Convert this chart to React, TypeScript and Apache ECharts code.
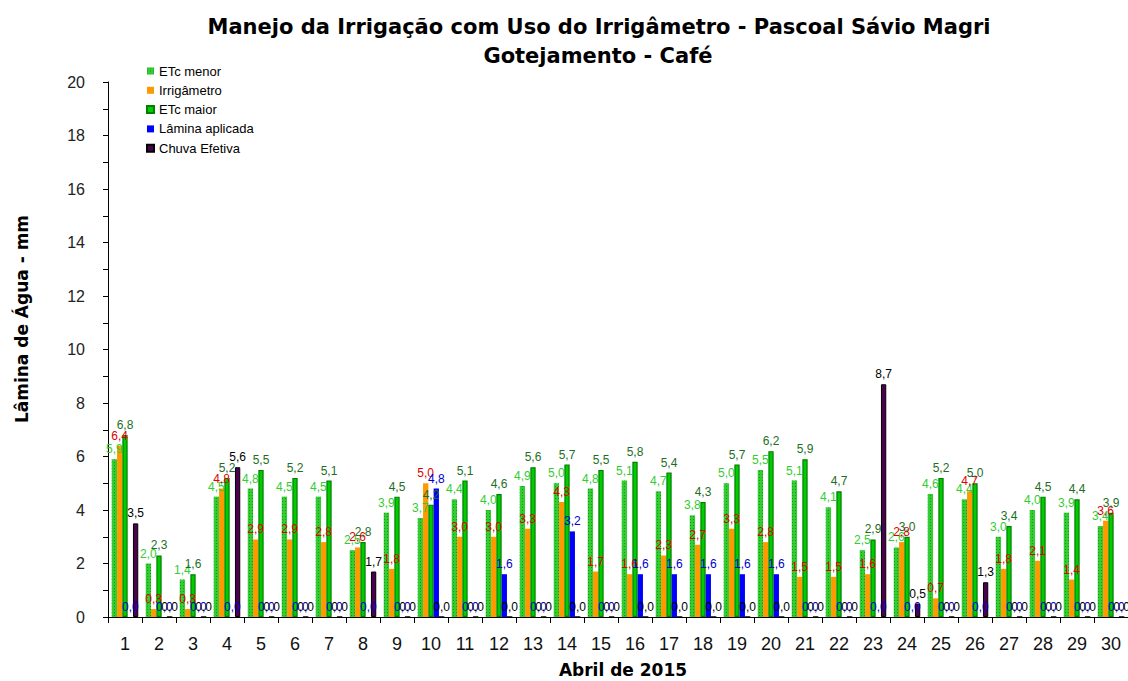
import React, { useEffect, useRef } from "react";
import * as echarts from "echarts";

const days = ["1","2","3","4","5","6","7","8","9","10","11","12","13","14","15","16","17","18","19","20","21","22","23","24","25","26","27","28","29","30"];
const etcMenor = [5.9,2.0,1.4,4.5,4.8,4.5,4.5,2.5,3.9,3.7,4.4,4.0,4.9,5.0,4.8,5.1,4.7,3.8,5.0,5.5,5.1,4.1,2.5,2.6,4.6,4.4,3.0,4.0,3.9,3.4];
const irrigametro = [6.4,0.3,0.3,4.8,2.9,2.9,2.8,2.6,1.8,5.0,3.0,3.0,3.3,4.3,1.7,1.6,2.3,2.7,3.3,2.8,1.5,1.5,1.6,2.8,0.7,4.7,1.8,2.1,1.4,3.6];
const etcMaior = [6.8,2.3,1.6,5.2,5.5,5.2,5.1,2.8,4.5,4.2,5.1,4.6,5.6,5.7,5.5,5.8,5.4,4.3,5.7,6.2,5.9,4.7,2.9,3.0,5.2,5.0,3.4,4.5,4.4,3.9];
const laminaAplicada = [0,0,0,0,0,0,0,0,0,4.8,0,1.6,0,3.2,0,1.6,1.6,1.6,1.6,1.6,0,0,0,0,0,0,0,0,0,0];
const chuvaEfetiva = [3.5,0,0,5.6,0,0,0,1.7,0,0,0,0,0,0,0,0,0,0,0,0,0,0,8.7,0.5,0,1.3,0,0,0,0];

const titleLine1 = "Manejo da Irrigação com Uso do Irrigâmetro - Pascoal Sávio Magri";
const titleLine2 = "Gotejamento - Café";
const xTitle = "Abril de 2015";
const yTitle = "Lâmina de Água - mm";

const fmt = (v: number) => v.toFixed(1).replace(".", ",");

export default function App() {
  const ref = useRef<HTMLDivElement>(null);
  useEffect(() => {
    document.body.style.margin = "0";
    const chart = echarts.init(ref.current!, null, { renderer: "svg" });
    const lbl = (color: string) => ({
      show: true,
      position: "top" as const,
      distance: 4,
      color,
      fontSize: 12,
      fontFamily: "Liberation Sans",
      formatter: (p: any) => fmt(p.value),
    });
    chart.setOption({
      animation: false,
      backgroundColor: "#ffffff",
      legend: {
        orient: "vertical",
        left: 141,
        top: 59,
        itemWidth: 7,
        itemHeight: 7,
        itemGap: 5.3,
        icon: "rect",
        textStyle: { fontSize: 13, lineHeight: 14, fontFamily: "Liberation Sans", color: "#000" },
        data: ["ETc menor", "Irrigâmetro", "ETc maior", "Lâmina aplicada", "Chuva Efetiva"],
      },
      grid: { left: 108, top: 82, width: 1028.6, height: 535 },
      xAxis: {
        type: "category",
        data: days,
        axisLine: { lineStyle: { color: "#000", width: 1 } },
        axisTick: { show: true, length: 6, alignWithLabel: false, lineStyle: { color: "#000" } },
        axisLabel: { fontSize: 18, margin: 18, color: "#111", fontFamily: "Liberation Sans" },
      },
      yAxis: {
        type: "value",
        min: 0,
        max: 20,
        interval: 1,
        splitLine: { show: false },
        axisLine: { show: true, lineStyle: { color: "#000", width: 1 } },
        axisTick: { show: true, length: 5, lineStyle: { color: "#000" } },
        axisLabel: {
          fontSize: 16,
          margin: 23,
          color: "#222",
          fontFamily: "Liberation Sans",
          formatter: (v: number) => (v % 2 === 0 ? String(v) : ""),
        },
      },
      graphic: [
        {
          type: "text",
          x: 599,
          y: 27,
          style: { text: titleLine1, font: "bold 21px 'DejaVu Sans'", fill: "#000", textAlign: "center", textVerticalAlign: "middle" },
        },
        {
          type: "text",
          x: 598,
          y: 56,
          style: { text: titleLine2, font: "bold 21px 'DejaVu Sans'", fill: "#000", textAlign: "center", textVerticalAlign: "middle" },
        },
        {
          type: "text",
          x: 623,
          y: 670,
          style: { text: xTitle, font: "bold 17px 'DejaVu Sans'", fill: "#000", textAlign: "center", textVerticalAlign: "middle" },
        },
        {
          type: "text",
          x: 22,
          y: 319,
          rotation: Math.PI / 2,
          style: { text: yTitle, font: "bold 17px 'DejaVu Sans'", fill: "#000", textAlign: "center", textVerticalAlign: "middle" },
        },
      ],
      series: [
        {
          name: "ETc menor",
          type: "bar",
          data: etcMenor,
          barGap: "0%",
          barCategoryGap: "22%",
          itemStyle: {
            color: "#33CC33",
            decal: { symbol: "rect", symbolSize: 1, color: "rgba(0,120,0,0.6)", dashArrayX: [1, 2], dashArrayY: [1, 2], rotation: 0 },
          },
          label: lbl("#33CC33"),
        },
        {
          name: "Irrigâmetro",
          type: "bar",
          data: irrigametro,
          barGap: "0%",
          barCategoryGap: "22%",
          itemStyle: { color: "#FF9900" },
          label: lbl("#E00000"),
        },
        {
          name: "ETc maior",
          type: "bar",
          data: etcMaior,
          barGap: "0%",
          barCategoryGap: "22%",
          itemStyle: { color: "#00CC00", borderColor: "#008000", borderWidth: 1.2 },
          label: lbl("#1E6E1E"),
        },
        {
          name: "Lâmina aplicada",
          type: "bar",
          data: laminaAplicada,
          barGap: "0%",
          barCategoryGap: "22%",
          itemStyle: { color: "#0000FF" },
          label: lbl("#0000CC"),
        },
        {
          name: "Chuva Efetiva",
          type: "bar",
          data: chuvaEfetiva,
          barGap: "0%",
          barCategoryGap: "22%",
          itemStyle: { color: "#4D0050", borderColor: "#000", borderWidth: 1 },
          label: lbl("#000000"),
        },
      ],
    });
    return () => chart.dispose();
  }, []);
  return <div ref={ref} style={{ position: "absolute", left: 0, top: 0, width: 1128, height: 681 }} />;
}
